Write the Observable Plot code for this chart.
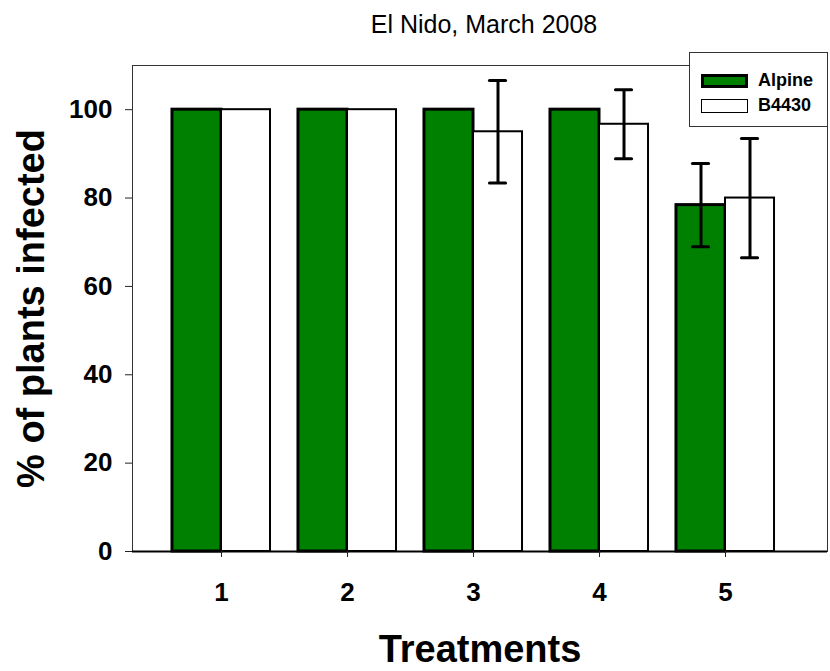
<!DOCTYPE html>
<html>
<head>
<meta charset="utf-8">
<script src="https://cdn.jsdelivr.net/npm/d3@7"></script>
<script src="https://cdn.jsdelivr.net/npm/@observablehq/plot@0.6"></script>
<style>
  html, body { margin: 0; padding: 0; background: white; }
  #wrap { position: relative; width: 830px; height: 671px; font-family: "Liberation Sans", Arial, sans-serif; }
  #legend { position: absolute; left: 689px; top: 52px; width: 137px; height: 73px; background: white; border: 1px solid #333; }
  .item { position: absolute; left: 11px; display: flex; align-items: center; font-weight: bold; font-size: 18px; color: black; }
  .sw { box-sizing: border-box; width: 47px; height: 14px; margin-right: 10px; }
</style>
</head>
<body>
<div id="wrap"></div>
<script>
const treatments = [1, 2, 3, 4, 5];
const seriesNames = ["Alpine", "B4430"];
const alpine = [100, 100, 100, 100, 78.4];
const alpineErr = [0, 0, 0, 0, 9.4];
const b4430 = [100, 100, 95, 96.7, 80];
const b4430Err = [0, 0, 11.6, 7.8, 13.5];
const yTicks = [0, 20, 40, 60, 80, 100];
const title = "El Nido, March 2008";
const xTitle = "Treatments";
const yTitle = "% of plants infected";

const bw = 0.389;   // bar width in treatment units
const cap = 0.064;  // half cap width

const alpineData = treatments.map((t, i) => ({t, v: alpine[i], e: alpineErr[i], c: t - bw / 2}));
const b4430Data = treatments.map((t, i) => ({t, v: b4430[i], e: b4430Err[i], c: t + bw / 2}));
const errData = alpineData.concat(b4430Data).filter(d => d.e > 0);

const chart = Plot.plot({
  width: 830,
  height: 671,
  marginLeft: 132,
  marginRight: 3,
  marginTop: 65,
  marginBottom: 120,
  x: {domain: [0.2937, 5.8095]},
  y: {domain: [0, 110]},
  style: {fontFamily: "'Liberation Sans', Arial, sans-serif", color: "black", background: "white"},
  marks: [
    Plot.frame({stroke: "#333", strokeWidth: 1}),
    Plot.rect(alpineData, {x1: d => d.t - bw, x2: d => d.t, y1: 0, y2: "v", fill: "#008000", stroke: "black", strokeWidth: 3}),
    Plot.rect(b4430Data, {x1: d => d.t, x2: d => d.t + bw, y1: 0, y2: "v", fill: "white", stroke: "black", strokeWidth: 2}),
    Plot.ruleX(errData, {x: "c", y1: d => d.v - d.e, y2: d => d.v + d.e, stroke: "black", strokeWidth: 3}),
    Plot.ruleY(errData, {y: d => d.v + d.e, x1: d => d.c - cap, x2: d => d.c + cap, stroke: "black", strokeWidth: 3, strokeLinecap: "round"}),
    Plot.ruleY(errData, {y: d => d.v - d.e, x1: d => d.c - cap, x2: d => d.c + cap, stroke: "black", strokeWidth: 3, strokeLinecap: "round"}),
    Plot.ruleY([0], {stroke: "black", strokeWidth: 2}),
    Plot.axisY({ticks: yTicks, tickSize: 7, tickPadding: 13, fontSize: 26, fontWeight: "bold", label: null, stroke: "#222"}),
    Plot.axisX({ticks: treatments, tickFormat: d => String(d), tickSize: 6, tickPadding: 25, fontSize: 26, fontWeight: "bold", label: null, stroke: "#222"}),
    Plot.text([title], {text: d => d, frameAnchor: "top", dy: -33, dx: 4, lineAnchor: "bottom", fontSize: 25}),
    Plot.text([xTitle], {text: d => d, frameAnchor: "bottom", dy: 110, lineAnchor: "bottom", fontSize: 38, fontWeight: "bold"}),
    Plot.text([yTitle], {text: d => d, frameAnchor: "left", dx: -89, rotate: -90, textAnchor: "middle", lineAnchor: "bottom", fontSize: 38, fontWeight: "bold"})
  ]
});

const wrap = document.getElementById("wrap");
wrap.appendChild(chart);

const legend = document.createElement("div");
legend.id = "legend";
const swatchStyles = [
  {fill: "#008000", border: "3px solid black", top: 17},
  {fill: "white", border: "1.5px solid black", top: 42}
];
seriesNames.forEach((name, i) => {
  const item = document.createElement("div");
  item.className = "item";
  item.style.top = swatchStyles[i].top + "px";
  const sw = document.createElement("div");
  sw.className = "sw";
  sw.style.background = swatchStyles[i].fill;
  sw.style.border = swatchStyles[i].border;
  const label = document.createElement("span");
  label.textContent = name;
  item.appendChild(sw);
  item.appendChild(label);
  legend.appendChild(item);
});
wrap.appendChild(legend);
</script>
</body>
</html>
